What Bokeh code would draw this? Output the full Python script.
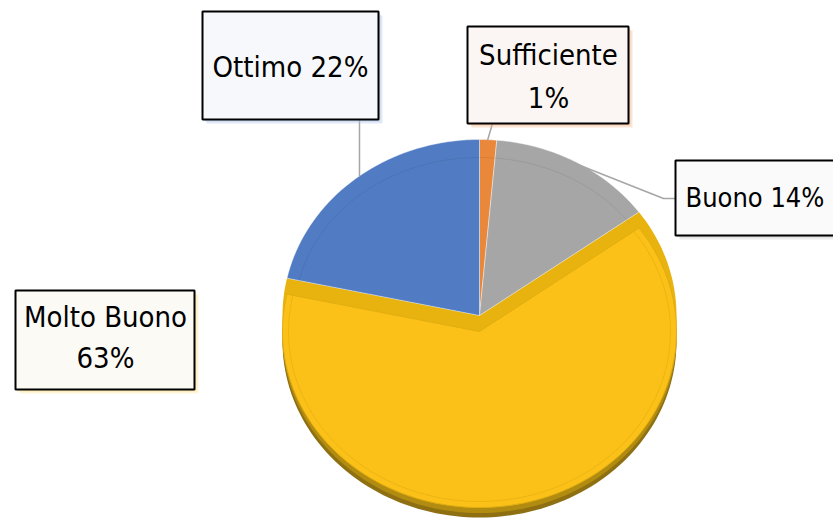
import numpy as np
from bokeh.plotting import figure
from bokeh.models import Range1d
from bokeh.embed import file_html
from bokeh.resources import INLINE
from bokeh.core.properties import value

# ---- data (clockwise from 12 o'clock) ----
categories = ["Sufficiente", "Buono", "Molto Buono", "Ottimo"]
shares = [1.4, 13.6, 63.4, 21.6]
colors = ["#E9873B", "#A6A6A6", "#FBC118", "#517CC4"]

# ---- layout / style ----
W, H = 833, 520
CX, CY = 479, 315          # centre of the back slices
RX, RY = 197, 176          # ellipse radii of the tilted pie
DROP = 16                  # lowered top face of the big slice
RIM = 10                   # visible thickness under the big slice
FONT = "DejaVu Sans Condensed"

p = figure(width=W, height=H, output_backend="svg", toolbar_location=None,
           x_range=Range1d(0, W), y_range=Range1d(H, 0),
           x_axis_type=None, y_axis_type=None, min_border=0)
p.outline_line_color = None
p.grid.visible = False
p.background_fill_color = "white"
p.border_fill_color = "white"

vals = np.array(shares, dtype=float)
frac = vals / vals.sum()
ends = np.cumsum(frac) * 2 * np.pi
starts = ends - frac * 2 * np.pi


def wedge(a0, a1, cx, cy, rx, ry, n=200):
    t = np.linspace(a0, a1, max(int(n * (a1 - a0) / (2 * np.pi)), 4))
    xs = np.concatenate([[cx], cx + rx * np.sin(t), [cx]])
    ys = np.concatenate([[cy], cy - ry * np.cos(t), [cy]])
    return list(xs), list(ys)


def arc(a0, a1, cx, cy, rx, ry, n=200):
    t = np.linspace(a0, a1, max(int(n * (a1 - a0) / (2 * np.pi)), 4))
    return list(cx + rx * np.sin(t)), list(cy - ry * np.cos(t))


big = int(np.argmax(vals))

# rim of the big (front) slice
rx_, ry_ = wedge(starts[big], ends[big], CX, CY + DROP + RIM, RX, RY)
p.patch(rx_, ry_, fill_color="#8E7012", line_color=None)
rx_, ry_ = wedge(starts[big], ends[big], CX, CY + DROP + RIM * 0.55, RX, RY)
p.patch(rx_, ry_, fill_color="#B28C10", line_color=None)
# side walls along the cut edges
sx, sy = wedge(starts[big], ends[big], CX, CY, RX, RY)
p.patch(sx, sy, fill_color="#E8B30E", line_color=None)
# top face of the big slice
fx, fy = wedge(starts[big], ends[big], CX, CY + DROP, RX, RY)
p.patch(fx, fy, fill_color=colors[big], line_color="#E2AE10", line_width=1)
ax, ay = arc(starts[big], ends[big], CX, CY + DROP, RX - 6, RY - 6)
p.line(ax, ay, line_color="#D9A60E", line_alpha=0.45, line_width=1)

# back slices
for i in range(len(vals)):
    if i == big:
        continue
    xs, ys = wedge(starts[i], ends[i], CX, CY, RX, RY)
    p.patch(xs, ys, fill_color=colors[i], line_color="#FFFFFF", line_alpha=0.5, line_width=0.8)
    ax, ay = arc(starts[i], ends[i], CX, CY, RX - 12, RY - 18)
    p.line(ax, ay, line_color="#000000", line_alpha=0.07, line_width=1)

# ---- labels ----
pct = [f"{round(v)}%" for v in shares]
label_lines = [
    [categories[0], pct[0]],
    [f"{categories[1]} {pct[1]}"],
    [categories[2], pct[2]],
    [f"{categories[3]} {pct[3]}"],
]
boxes = [  # left, top, right, bottom
    (467, 26, 628, 123),
    (675, 160, 845, 235),
    (15, 290, 194, 389),
    (202, 11, 378, 119),
]
box_fill = ["#FBF6F3", "#FAFAFA", "#FBFAF5", "#F7F8FB"]
shadow = ["#F4B183", "#C9C9C9", "#FFE08A", "#A9BFE4"]
text_x = [548, 685, 105, 290]
text_align = ["center", "left", "center", "center"]
text_y = [[54, 97], [197], [316, 357], [66]]
font_sizes = ["29px", "27px", "29px", "29px"]
leaders = [
    ([492, 487], [123, 140]),
    ([557, 663, 675], [156, 198, 198]),
    None,
    ([359, 359], [119, 176]),
]

for i in range(4):
    if leaders[i] is not None:
        p.line(leaders[i][0], leaders[i][1], line_color="#A6A6A6", line_width=1.5)

for i in range(4):
    l, t, r, b = boxes[i]
    p.quad(left=l + 4, right=r + 4, top=t + 4, bottom=b + 4,
           fill_color=shadow[i], fill_alpha=0.35, line_color=None)
    p.quad(left=l + 2, right=r + 2, top=t + 2, bottom=b + 2,
           fill_color=shadow[i], fill_alpha=0.45, line_color=None)
    p.quad(left=l, right=r, top=t, bottom=b, fill_color=box_fill[i],
           line_color="#000000", line_width=2)
    for line, y in zip(label_lines[i], text_y[i]):
        p.text(x=[text_x[i]], y=[y], text=[line], text_font=value(FONT),
               text_font_size=font_sizes[i], text_color="#000000",
               text_align=text_align[i], text_baseline="middle")

open("out.html", "w").write(file_html(p, INLINE))
